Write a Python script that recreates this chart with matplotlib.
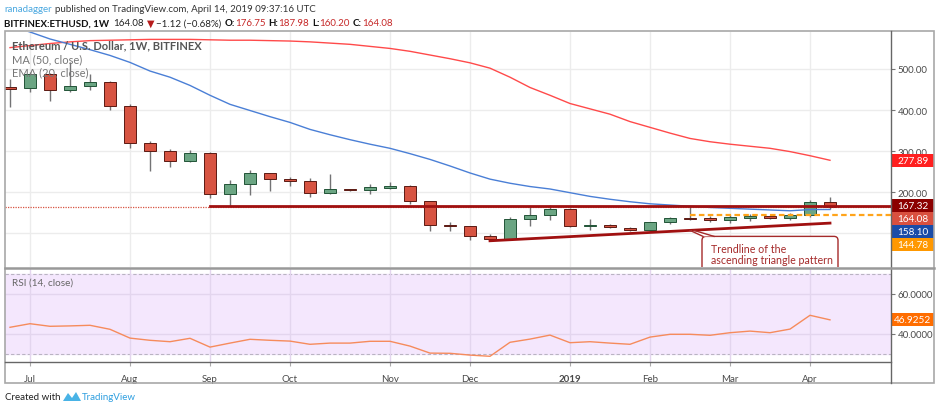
import matplotlib
matplotlib.use("Agg")
import matplotlib.pyplot as plt
from matplotlib.patches import Rectangle, FancyBboxPatch, Polygon
from matplotlib.transforms import IdentityTransform

W, H = 939, 410
FONT = ["Lato", "DejaVu Sans"]
plt.rcParams["font.family"] = FONT

# weekly ETHUSD candles, week of 2018-06-25 through week of 2019-04-08
opens = [456, 453, 488, 450, 458, 468, 411, 319, 300, 275,
         295, 196, 220, 246, 232, 227, 198, 207, 205, 211,
         215, 179, 120, 117, 93, 86, 135, 145, 160, 118,
         120, 114, 108, 127, 137, 137, 133, 138, 143, 138,
         145, 176.75]
highs = [476, 492, 490, 517, 488, 471, 414, 324, 305, 304,
         297, 229, 255, 248, 236, 234, 244, 209, 220, 224,
         217, 179, 127, 118, 98, 139, 165, 170, 162, 135,
         122, 116, 128, 140, 167, 142, 145, 146, 144, 149,
         181, 187.98]
lows = [408, 445, 422, 444, 449, 401, 307, 253, 262, 273,
        185, 167, 193, 204, 216, 189, 196, 203, 195, 208,
        172, 105, 106, 85, 83, 84, 117, 133, 116, 109,
        112, 105, 103, 124, 132, 128, 126, 131, 134, 132,
        140, 160.20]
closes = [452, 488, 450, 458, 468, 411, 319, 300, 275, 295,
          196, 220, 246, 232, 227, 198, 209, 205, 213, 215,
          179, 120, 118, 94, 86, 135, 145, 160, 118, 121,
          115, 109, 127, 137, 134, 133, 139, 143, 138, 145,
          176.75, 164.08]

ma50 = [552, 557, 562, 566, 569, 570, 571, 572, 572, 572,
        571, 570, 570, 569, 568, 566, 563, 560, 555, 550,
        543, 534, 525, 515, 502, 480, 455, 436, 416, 403,
        390, 372, 358, 344, 331, 323, 317, 312, 307, 299,
        289, 277.89]
ema20 = [605, 590, 573, 560, 547, 533, 516, 495, 480, 460,
         436, 414, 399, 384, 370, 353, 340, 328, 317, 307,
         294, 280, 264, 247, 232, 222, 214, 208, 199, 190,
         183, 177, 172, 169, 166, 163, 161, 159, 157, 155,
         158, 158.10]
rsi14 = [43.2, 45.0, 43.7, 43.9, 44.2, 42.2, 37.8, 36.7, 36.0, 37.7,
         33.3, 35.3, 37.2, 36.7, 36.3, 34.7, 35.3, 35.3, 36.2, 36.2,
         33.8, 30.3, 30.2, 29.3, 28.7, 35.7, 37.3, 39.3, 35.5, 36.0,
         35.3, 34.7, 38.3, 39.7, 39.7, 39.2, 40.5, 41.3, 40.5, 42.3,
         49.2, 46.9252]

month_ticks = [1, 6, 10, 14, 19, 23, 28, 32, 36, 40]
month_labels = ["Jul", "Aug", "Sep", "Oct", "Nov", "Dec", "2019", "Feb", "Mar", "Apr"]
price_ticks = [100, 200, 300, 400, 500]
rsi_ticks = [40, 60]

resistance_level = 167.32
resistance_from = 10
breakout_level = 144.78
breakout_from = 34
trend_weeks = [24, 41]
trend_prices = [82, 125]

UP, UP_EDGE = "#6ba583", "#225437"
DOWN, DOWN_EDGE = "#d75442", "#5b1a13"
WICK = "#737375"
GRID = "#ececec"
TEXT = "#4a4a4a"


def fx(x):
    return x / W


def fy(y):
    return 1 - y / H


def text_runs(fig, x, y, runs, size):
    r = fig.canvas.get_renderer()
    for s, color, weight, gap in runs:
        t = fig.text(fx(x), fy(y), s, color=color, fontsize=size,
                     fontweight=weight, va="center", ha="left")
        x += t.get_window_extent(r).width + gap


def value_tag(fig, y, label, color):
    fig.add_artist(Rectangle((fx(892), fy(y + 6.5)), 42 / W, 13 / H,
                             transform=fig.transFigure, fc=color, ec="none"))
    fig.text(fx(913), fy(y), label, color="white", fontsize=7.2,
             ha="center", va="center")


fig = plt.figure(figsize=(W / 100, H / 100), dpi=100)
fig.patch.set_facecolor("white")

ax = fig.add_axes([fx(5), fy(268), 886 / W, 235 / H])
ax2 = fig.add_axes([fx(5), fy(363), 886 / W, 94 / H], sharex=ax)

ax.set_xlim(-0.25, 44.05)
ax.set_ylim(18.2, 590)
ax2.set_ylim(25.85, 72.85)

# price panel
for a in (ax, ax2):
    for s in a.spines.values():
        s.set_visible(False)
ax.set_xticks(month_ticks)
ax.grid(axis="both", color=GRID, lw=1)
ax.set_axisbelow(True)
ax.yaxis.tick_right()
ax.set_yticks(price_ticks)
ax.set_yticklabels([""] + [f"{p:.2f}" for p in price_ticks[1:]])
ax.tick_params(axis="y", length=3, width=0.8, color="#777", labelsize=7,
               labelcolor=TEXT, pad=2)
ax.tick_params(axis="x", length=0, labelbottom=False)

for i, (o, h, l, c) in enumerate(zip(opens, highs, lows, closes)):
    up = c >= o
    ax.vlines(i, l, h, color=WICK, lw=1, zorder=2)
    ax.bar(i, max(abs(c - o), 1.5), bottom=min(o, c), width=0.6,
           color=UP if up else DOWN, edgecolor=UP_EDGE if up else DOWN_EDGE,
           lw=0.7, zorder=3)

weeks = list(range(len(closes)))
ax.plot(weeks, ma50, color="#ff4a4a", lw=1, zorder=4)
ax.plot(weeks, ema20, color="#4a7fd6", lw=1, zorder=4)

xmax = ax.get_xlim()[1]
ax.axhline(closes[-1], color="#d75442", lw=0.9, ls=(0, (1, 1)), zorder=4)
ax.plot([resistance_from, xmax], [resistance_level] * 2, color="#a01010", lw=2, zorder=5)
ax.plot([breakout_from, xmax], [breakout_level] * 2, color="#ffa41b", lw=1.6,
        ls=(0, (2.5, 1.5)), zorder=5)
ax.plot(trend_weeks, trend_prices, color="#a01010", lw=2, zorder=5)

# callout for the trendline
tip_w = breakout_from
tip_p = trend_prices[0] + (tip_w - trend_weeks[0]) * (trend_prices[1] - trend_prices[0]) / (trend_weeks[1] - trend_weeks[0])
tx, ty = ax.transData.transform((tip_w, tip_p))
bl, bt = tx + 12, ty - 6
box = FancyBboxPatch((bl, bt - 40), 136, 40, boxstyle="round,pad=0,rounding_size=4",
                     transform=IdentityTransform(), fc="white", ec="#a52a2a", lw=1, zorder=6)
ax.add_patch(box)
ax.add_patch(Polygon([(tx, ty), (bl + 1, bt), (bl + 12, bt)], closed=True,
                     transform=IdentityTransform(), fc="white", ec="none", zorder=7))
ax.plot([tx, bl + 1], [ty, bt], transform=IdentityTransform(), color="#a52a2a", lw=1, zorder=7)
ax.plot([tx + 4, bl + 12], [ty, bt], transform=IdentityTransform(), color="#a52a2a", lw=1, zorder=7)
fig.text(fx(bl + 9), fy(H - bt + 18), "Trendline of the\nascending triangle pattern",
         color="#a52a2a", fontsize=7.7, ha="left", va="center", linespacing=1.0,
         zorder=8)

fig.text(fx(12), fy(46), "Ethereum / U.S. Dollar, 1W, BITFINEX", color="#555",
         fontsize=8, fontweight="bold", va="center")
fig.text(fx(12), fy(60), "MA (50, close)", color="#777", fontsize=8, va="center")
fig.text(fx(12), fy(72.5), "EMA (20, close)", color="#777", fontsize=8, va="center")

# RSI panel
ax2.axhspan(30, 70, color="#f4e7fd", zorder=0)
ax2.axhline(70, color="#b9b3c2", lw=0.8, ls=(0, (3, 2)), zorder=1)
ax2.axhline(30, color="#b9b3c2", lw=0.8, ls=(0, (3, 2)), zorder=1)
for v in rsi_ticks:
    ax2.axhline(v, color="#e3d5ee", lw=1, zorder=1)
for m in month_ticks:
    ax2.axvline(m, color="#e3d5ee", lw=1, zorder=1)
ax2.plot(weeks, rsi14, color="#f68b5c", lw=1, zorder=3)
ax2.yaxis.tick_right()
ax2.set_yticks(rsi_ticks)
ax2.set_yticklabels([f"{v:.4f}" for v in rsi_ticks])
ax2.tick_params(axis="y", length=3, width=0.8, color="#777", labelsize=7,
                labelcolor=TEXT, pad=2)
ax2.set_xticks(month_ticks)
ax2.set_xticklabels(month_labels)
ax2.tick_params(axis="x", length=3, width=0.8, color="#aaa", labelsize=7,
                labelcolor=TEXT, pad=6)
for lab in ax2.get_xticklabels():
    if lab.get_text() == "2019":
        lab.set_fontweight("bold")
fig.text(fx(12), fy(283), "RSI (14, close)", color="#666", fontsize=7.2, va="center")

# frame lines
line_kw = dict(transform=fig.transFigure, zorder=10)
fig.add_artist(Rectangle((fx(5), fy(384)), 929 / W, 352 / H, fill=False,
                         ec="#a8a8a8", lw=1.2, **line_kw))
fig.add_artist(plt.Line2D([fx(891)] * 2, [fy(32), fy(384)], color="#666", lw=1, **line_kw))
fig.add_artist(plt.Line2D([fx(5), fx(934)], [fy(268.5)] * 2, color="#999", lw=1.8, **line_kw))
fig.add_artist(plt.Line2D([fx(5), fx(891)], [fy(363)] * 2, color="#666", lw=1, **line_kw))

# right axis value tags, stacked so they do not overlap
tags = [(ma50[-1], "#ff1f1f"), (resistance_level, "#8b0000"), (closes[-1], "#d9503f"),
        (ema20[-1], "#1a4ca8"), (breakout_level, "#ff9800")]
prev = -100
for v, col in sorted(tags, key=lambda t: -t[0]):
    y = H - ax.transData.transform((0, v))[1]
    y = max(y, prev + 13)
    value_tag(fig, y, f"{v:.2f}", col)
    prev = y
y_rsi = H - ax2.transData.transform((0, rsi14[-1]))[1]
value_tag(fig, y_rsi, f"{rsi14[-1]:.4f}", "#ff6d00")

# header
text_runs(fig, 4, 9, [("ranadagger", "#4aa8e0", "normal", 3),
                      ("published on TradingView.com, April 14, 2019 09:37:16 UTC", "#333", "normal", 0)], 7.0)
red = "#c62828"
text_runs(fig, 4, 24, [("BITFINEX:ETHUSD, 1W", "#111", "bold", 4),
                       ("164.08", "#222", "normal", 3),
                       ("▼", "#b71c1c", "normal", 2),
                       ("−1.12 (−0.68%)", "#222", "normal", 3),
                       ("O:", "#111", "bold", 0), ("176.75", red, "normal", 3),
                       ("H:", "#111", "bold", 0), ("187.98", red, "normal", 3),
                       ("L:", "#111", "bold", 0), ("160.20", red, "normal", 3),
                       ("C:", "#111", "bold", 0), ("164.08", red, "normal", 0)], 7.0)

# footer
fig.text(fx(5), fy(398), "Created with", color="#222", fontsize=7.0, va="center")
fig.add_artist(Polygon([(fx(63), fy(402)), (fx(68), fy(394)), (fx(72), fy(399)),
                        (fx(76), fy(393)), (fx(81), fy(402))], closed=True,
                       transform=fig.transFigure, fc="#49b3e6", ec="none"))
fig.text(fx(82), fy(398), "TradingView", color="#2f9fe0", fontsize=7.0, va="center")

fig.savefig("out.png", dpi=100, facecolor="white")
